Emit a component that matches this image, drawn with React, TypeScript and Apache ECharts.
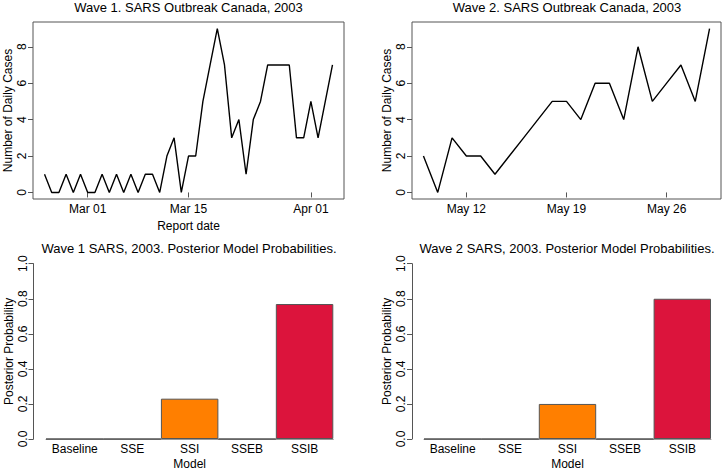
import React, { useEffect, useRef } from "react";
import * as echarts from "echarts";

const wave1Start = "2003-02-23";
const wave1Cases = [1, 0, 0, 1, 0, 1, 0, 0, 1, 0, 1, 0, 1, 0, 1, 1, 0, 2, 3, 0, 2, 2, 5, 7, 9, 7, 3, 4, 1, 4, 5, 7, 7, 7, 7, 3, 3, 5, 3, 5, 7];
const wave1TickDates = ["2003-03-01", "2003-03-15", "2003-04-01"];
const wave1TickLabels = ["Mar 01", "Mar 15", "Apr 01"];

const wave2Start = "2003-05-09";
const wave2Cases = [2, 0, 3, 2, 2, 1, 2, 3, 4, 5, 5, 4, 6, 6, 4, 8, 5, 6, 7, 5, 9];
const wave2TickDates = ["2003-05-12", "2003-05-19", "2003-05-26"];
const wave2TickLabels = ["May 12", "May 19", "May 26"];

const caseTicks = [0, 2, 4, 6, 8];

const models = ["Baseline", "SSE", "SSI", "SSEB", "SSIB"];
const wave1Prob = [0, 0, 0.23, 0, 0.77];
const wave2Prob = [0, 0, 0.2, 0, 0.8];
const modelColors = ["#1F78B4", "#33A02C", "#FF7F00", "#6A3D9A", "#DC143C"];

const DAY = 86400000;
const FONT = "Liberation Sans";
const AXIS = "#555555";

function seriesData(start: string, vals: number[]) {
  const t0 = Date.parse(start);
  return vals.map((v, i) => [t0 + i * DAY, v]);
}

function timeAxis(gridIndex: number, start: string, n: number, tickDates: string[], tickLabels: string[]) {
  const t0 = Date.parse(start);
  const span = (n - 1) * DAY;
  const ticks = tickDates.map((d) => Date.parse(d));
  return {
    type: "value",
    gridIndex,
    min: t0 - span * 0.04,
    max: t0 + span * 1.04,
    name: gridIndex === 0 ? "Report date" : "",
    nameLocation: "middle",
    nameGap: 21,
    nameTextStyle: { fontFamily: FONT, fontSize: 12, color: "#000" },
    axisLine: { show: false },
    splitLine: { show: false },
    axisTick: { show: true, customValues: ticks, length: 5, lineStyle: { color: AXIS } },
    axisLabel: {
      customValues: ticks,
      margin: 4,
      fontFamily: FONT,
      fontSize: 12,
      color: "#000",
      formatter: (v: number) => {
        const idx = ticks.findIndex((t) => Math.abs(t - v) < 1000);
        return idx >= 0 ? tickLabels[idx] : "";
      },
    },
  };
}

function caseAxis(gridIndex: number) {
  return {
    type: "value",
    gridIndex,
    min: -0.36,
    max: 9.36,
    name: "Number of Daily Cases",
    nameLocation: "middle",
    nameRotate: 90,
    nameGap: 19,
    nameTextStyle: { fontFamily: FONT, fontSize: 12, color: "#000" },
    axisLine: { show: false },
    splitLine: { show: false },
    axisTick: { show: true, customValues: caseTicks, length: 5, lineStyle: { color: AXIS } },
    axisLabel: {
      customValues: caseTicks,
      rotate: 90,
      margin: 5,
      fontFamily: FONT,
      fontSize: 12,
      color: "#000",
    },
  };
}

function probAxis(gridIndex: number, offset: number) {
  return {
    type: "value",
    gridIndex,
    min: 0,
    max: 1,
    interval: 0.2,
    offset,
    name: "Posterior Probability",
    nameLocation: "middle",
    nameRotate: 90,
    nameGap: 19,
    nameTextStyle: { fontFamily: FONT, fontSize: 12, color: "#000" },
    axisLine: { show: true, lineStyle: { color: AXIS } },
    splitLine: { show: false },
    axisTick: { show: true, length: 5, lineStyle: { color: AXIS } },
    axisLabel: {
      rotate: 90,
      margin: 5,
      fontFamily: FONT,
      fontSize: 12,
      color: "#000",
      formatter: (v: number) => v.toFixed(1),
    },
  };
}

function modelAxis(gridIndex: number) {
  return {
    type: "category",
    gridIndex,
    data: models,
    name: "Model",
    nameLocation: "middle",
    nameGap: 19,
    nameTextStyle: { fontFamily: FONT, fontSize: 12, color: "#000" },
    axisLine: { show: true, lineStyle: { color: "#999999" } },
    axisTick: { show: false },
    splitLine: { show: false },
    axisLabel: { margin: 4, fontFamily: FONT, fontSize: 12, color: "#000", interval: 0 },
  };
}

function barSeries(idx: number, vals: number[]) {
  return {
    type: "bar",
    xAxisIndex: idx,
    yAxisIndex: idx,
    barCategoryGap: "0%",
    data: vals.map((v, i) => ({
      value: v,
      itemStyle: { color: modelColors[i], borderColor: AXIS, borderWidth: 1 },
    })),
  };
}

function title(text: string, left: number, top: number) {
  return {
    text,
    left,
    top,
    textAlign: "center",
    padding: 0,
    textStyle: { fontFamily: FONT, fontSize: 13, fontWeight: "normal", color: "#000" },
  };
}

export default function App() {
  const ref = useRef<HTMLDivElement>(null);
  useEffect(() => {
    document.body.style.margin = "0";
    if (!ref.current) return;
    const chart = echarts.init(ref.current, undefined, { renderer: "svg" });
    chart.setOption({
      animation: false,
      backgroundColor: "#ffffff",
      title: [
        title("Wave 1. SARS Outbreak Canada, 2003", 188.5, 1),
        title("Wave 2. SARS Outbreak Canada, 2003", 567, 1),
        title("Wave 1 SARS, 2003. Posterior Model Probabilities.", 189, 242),
        title("Wave 2 SARS, 2003. Posterior Model Probabilities.", 567, 242),
      ],
      grid: [
        { left: 33, top: 22, width: 311, height: 177, show: true, borderColor: AXIS, borderWidth: 1, backgroundColor: "transparent" },
        { left: 412, top: 22, width: 309, height: 177, show: true, borderColor: AXIS, borderWidth: 1, backgroundColor: "transparent" },
        { left: 46, top: 263.7, width: 287.3, height: 177.3 },
        { left: 424, top: 263.7, width: 287, height: 177.3 },
      ],
      xAxis: [
        timeAxis(0, wave1Start, wave1Cases.length, wave1TickDates, wave1TickLabels),
        timeAxis(1, wave2Start, wave2Cases.length, wave2TickDates, wave2TickLabels),
        modelAxis(2),
        modelAxis(3),
      ],
      yAxis: [caseAxis(0), caseAxis(1), probAxis(2, 12.5), probAxis(3, 12)],
      series: [
        {
          type: "line",
          xAxisIndex: 0,
          yAxisIndex: 0,
          data: seriesData(wave1Start, wave1Cases),
          showSymbol: false,
          lineStyle: { color: "#000", width: 1.4 },
        },
        {
          type: "line",
          xAxisIndex: 1,
          yAxisIndex: 1,
          data: seriesData(wave2Start, wave2Cases),
          showSymbol: false,
          lineStyle: { color: "#000", width: 1.4 },
        },
        barSeries(2, wave1Prob),
        barSeries(3, wave2Prob),
      ],
    });
    return () => chart.dispose();
  }, []);
  return <div ref={ref} style={{ width: 724, height: 471 }} />;
}
